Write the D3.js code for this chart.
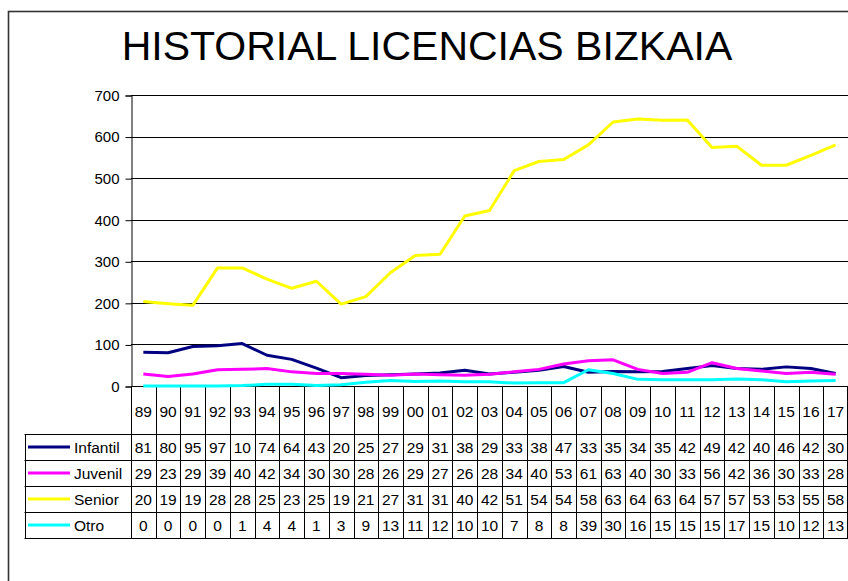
<!DOCTYPE html>
<html>
<head>
<meta charset="utf-8">
<script src="https://cdn.jsdelivr.net/npm/d3@7"></script>
<style>
  html, body { margin: 0; padding: 0; background: #fff; }
  svg { display: block; font-family: "Liberation Sans", Arial, sans-serif; }
</style>
</head>
<body>
<svg id="chart" width="848" height="581"></svg>
<script>
// years shown on the category axis
const years = ["89", "90", "91", "92", "93", "94", "95", "96", "97", "98", "99", "00", "01", "02",
  "03", "04", "05", "06", "07", "08", "09", "10", "11", "12", "13", "14", "15", "16", "17"];

// series values (table cells only show the first two digits, like the original)
const infantil = [81, 80, 95, 97, 102, 74, 64, 43, 20, 25, 27, 29, 31, 38, 29, 33, 38, 47, 33, 35, 34, 35, 42, 49, 42, 40, 46, 42, 30];
const juvenil = [29, 23, 29, 39, 40, 42, 34, 30, 30, 28, 26, 29, 27, 26, 28, 34, 40, 53, 61, 63, 40, 30, 33, 56, 42, 36, 30, 33, 28];
const senior = [203, 198, 194, 284, 284, 257, 235, 252, 197, 215, 273, 314, 317, 409, 422, 518, 540, 545, 580, 635, 642, 639, 640, 574, 577, 531, 531, 555, 580];
const otro = [0, 0, 0, 0, 1, 4, 4, 1, 3, 9, 13, 11, 12, 10, 10, 7, 8, 8, 39, 30, 16, 15, 15, 15, 17, 15, 10, 12, 13];

const seriesNames = ["Infantil", "Juvenil", "Senior", "Otro"];
const seriesColors = ["#000080", "#ff00ff", "#ffff00", "#00ffff"];
const yTicks = [0, 100, 200, 300, 400, 500, 600, 700];

const series = [infantil, juvenil, senior, otro].map((values, i) => ({
  name: seriesNames[i],
  color: seriesColors[i],
  values: values,
}));

const svg = d3.select("#chart");
const plot = { left: 131, right: 848, top: 95, bottom: 386 };
const table = { left: 24.5, headerBottom: 434, rowH: 26, bottom: 538 };

const x = d3.scaleBand().domain(years).range([plot.left, plot.right]).padding(0);
const y = d3.scaleLinear().domain([0, 700]).range([plot.bottom, plot.top]);
const cx = (d) => x(d) + x.bandwidth() / 2;
const crisp = (v) => Math.round(v) + 0.5;

// outer frame (runs off the right / bottom of the picture)
svg.append("rect")
  .attr("x", 8.5).attr("y", 11.5)
  .attr("width", 900).attr("height", 700)
  .attr("fill", "none").attr("stroke", "#333").attr("stroke-width", 1.6);

// title
svg.append("text")
  .attr("x", 427).attr("y", 60)
  .attr("text-anchor", "middle")
  .attr("font-size", 41)
  .attr("fill", "#000")
  .text("HISTORIAL LICENCIAS BIZKAIA");

// horizontal gridlines
svg.append("g")
  .selectAll("line")
  .data(yTicks)
  .join("line")
  .attr("x1", plot.left).attr("x2", plot.right)
  .attr("y1", (d) => crisp(y(d))).attr("y2", (d) => crisp(y(d)))
  .attr("stroke", "#000").attr("stroke-width", 1);

// y axis
const yAxis = svg.append("g")
  .attr("transform", `translate(${crisp(plot.left)},0.5)`)
  .call(d3.axisLeft(y).tickValues(yTicks).tickSize(6).tickPadding(6));
yAxis.select(".domain").attr("stroke", "#000");
yAxis.selectAll("text").attr("font-size", 15).attr("fill", "#000")
  .attr("font-family", "'Liberation Sans', Arial, sans-serif");
yAxis.selectAll(".tick line").attr("stroke", "#000");

// data table grid: column separators go from the axis down to the last row
const grid = svg.append("g").attr("stroke", "#000").attr("stroke-width", 1);
const bounds = years.map((d) => x(d)).concat([plot.right - 1.5]);
grid.selectAll(".vcol")
  .data(bounds)
  .join("line")
  .attr("class", "vcol")
  .attr("x1", (d) => crisp(d)).attr("x2", (d) => crisp(d))
  .attr("y1", plot.bottom).attr("y2", table.bottom);

const rowLines = d3.range(series.length + 1).map((i) => table.headerBottom + i * table.rowH);
grid.selectAll(".hrow")
  .data(rowLines)
  .join("line")
  .attr("class", "hrow")
  .attr("x1", table.left).attr("x2", plot.right)
  .attr("y1", (d) => crisp(d)).attr("y2", (d) => crisp(d));

grid.append("line")
  .attr("x1", crisp(table.left)).attr("x2", crisp(table.left))
  .attr("y1", table.headerBottom).attr("y2", table.bottom);

// year labels in the header row
svg.append("g")
  .selectAll("text")
  .data(years)
  .join("text")
  .attr("x", (d) => cx(d))
  .attr("y", 417)
  .attr("text-anchor", "middle")
  .attr("font-size", 15.5)
  .text((d) => d);

// table rows: legend key, series name and values
const rows = svg.append("g")
  .selectAll("g")
  .data(series)
  .join("g")
  .attr("transform", (d, i) => `translate(0,${table.headerBottom + i * table.rowH + table.rowH / 2})`);

rows.append("line")
  .attr("x1", 28).attr("x2", 70)
  .attr("y1", 0).attr("y2", 0)
  .attr("stroke", (d) => d.color).attr("stroke-width", 3);

rows.append("text")
  .attr("x", 74).attr("y", 5.5)
  .attr("font-size", 15.5)
  .text((d) => d.name);

rows.selectAll(".val")
  .data((d) => d.values)
  .join("text")
  .attr("class", "val")
  .attr("x", (d, i) => cx(years[i]))
  .attr("y", 5.5)
  .attr("text-anchor", "middle")
  .attr("font-size", 15.5)
  .text((d) => String(d).slice(0, 2));

// series lines
const line = d3.line()
  .x((d, i) => cx(years[i]))
  .y((d) => y(d));

svg.append("g")
  .selectAll("path")
  .data(series)
  .join("path")
  .attr("d", (d) => line(d.values))
  .attr("fill", "none")
  .attr("stroke", (d) => d.color)
  .attr("stroke-width", 3)
  .attr("stroke-linejoin", "round");
</script>
</body>
</html>
